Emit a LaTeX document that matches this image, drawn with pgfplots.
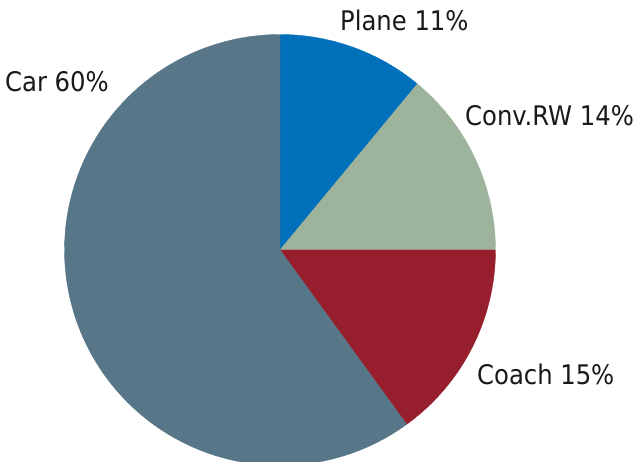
\documentclass[border=0pt]{standalone}
\usepackage{pgfplots}
\pgfplotsset{compat=1.18}
\usepackage{fontspec}
\setmainfont{DejaVu Sans Condensed}
\definecolor{cPlane}{HTML}{0070BA}
\definecolor{cConv}{HTML}{9EB39B}
\definecolor{cCoach}{HTML}{961E2D}
\definecolor{cCar}{HTML}{577687}
% shares in percent (clockwise from the top)
\def\vPlane{11}
\def\vConv{14}
\def\vCoach{15}
\def\vCar{60}
\def\cx{280}
\def\cy{212}
\def\R{215.5}
\begin{document}
\begin{tikzpicture}
\path[use as bounding box] (0,0) rectangle (636bp,462bp);
\begin{axis}[
  at={(0,0)}, anchor=south west,
  x=1bp, y=1bp, xmin=0, xmax=636, ymin=0, ymax=462,
  scale only axis, hide axis, clip=true,
  every axis plot/.append style={line width=0.4pt},
]
\pgfmathsetmacro{\aA}{90}
\pgfmathsetmacro{\aB}{\aA-3.6*\vPlane}
\pgfmathsetmacro{\aC}{\aB-3.6*\vConv}
\pgfmathsetmacro{\aD}{\aC-3.6*\vCoach}
\pgfmathsetmacro{\aE}{\aD-3.6*\vCar}
\addplot[fill=cPlane, draw=cPlane, domain=\aA:\aB, samples=40, variable=\t]
  ({\cx+\R*cos(\t)}, {\cy+\R*sin(\t)}) -- (axis cs:\cx,\cy) -- cycle;
\addplot[fill=cConv, draw=cConv, domain=\aB:\aC, samples=40, variable=\t]
  ({\cx+\R*cos(\t)}, {\cy+\R*sin(\t)}) -- (axis cs:\cx,\cy) -- cycle;
\addplot[fill=cCoach, draw=cCoach, domain=\aC:\aD, samples=40, variable=\t]
  ({\cx+\R*cos(\t)}, {\cy+\R*sin(\t)}) -- (axis cs:\cx,\cy) -- cycle;
\addplot[fill=cCar, draw=cCar, domain=\aD:\aE, samples=150, variable=\t]
  ({\cx+\R*cos(\t)}, {\cy+\R*sin(\t)}) -- (axis cs:\cx,\cy) -- cycle;
\end{axis}
\begin{scope}[every node/.style={font=\fontsize{27bp}{31bp}\selectfont, inner sep=0pt, anchor=base west, text=black!90}]
\node at (340bp,431bp) {Plane 11\%};
\node at (465bp,336bp) {Conv.RW 14\%};
\node at (5bp,370bp) {Car 60\%};
\node at (477bp,77bp) {Coach 15\%};
\end{scope}
\end{tikzpicture}
\end{document}
